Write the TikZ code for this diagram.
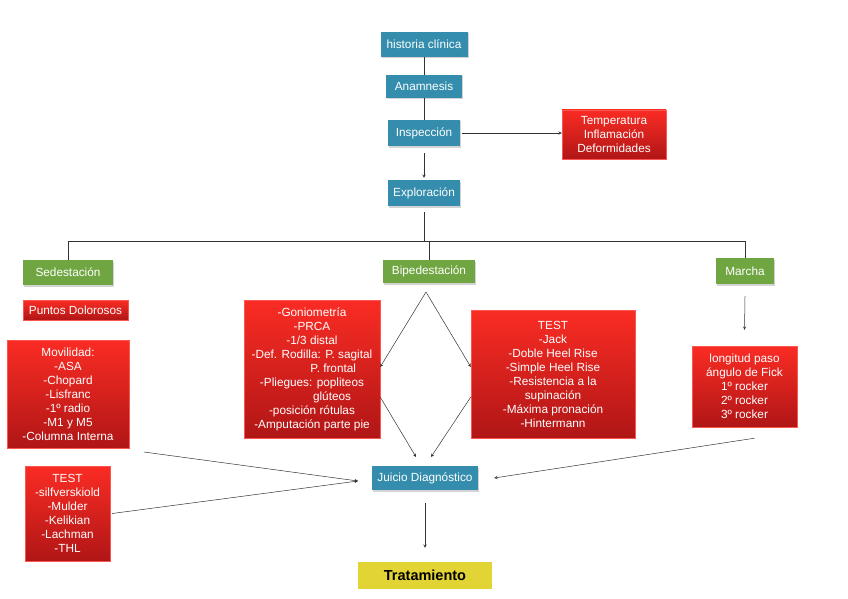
\documentclass[tikz,border=0pt]{standalone}
\usepackage{fontspec}
\setmainfont{Liberation Sans}
\usetikzlibrary{arrows,shapes,positioning,calc,shadows}

\definecolor{tealbox}{RGB}{52,141,172}
\definecolor{greenbox}{RGB}{112,166,66}
\definecolor{redtop}{RGB}{250,44,36}
\definecolor{redbot}{RGB}{176,22,22}
\definecolor{yellowbox}{RGB}{226,212,52}

\tikzset{
  base/.style={font=\fontsize{11.8}{14}\selectfont, align=center, inner sep=2pt, text=white},
  tealnode/.style={base, fill=tealbox, drop shadow={opacity=0.35, shadow xshift=1pt, shadow yshift=-1.5pt}},
  greennode/.style={base, fill=greenbox, drop shadow={opacity=0.35, shadow xshift=1pt, shadow yshift=-1.5pt}},
  rednode/.style={base, top color=redtop, bottom color=redbot, draw=redtop!80!white, line width=0.4pt},
  yellownode/.style={base, fill=yellowbox, text=black, font=\fontsize{14.5}{16}\selectfont\bfseries},
  link/.style={draw=black!80, line width=0.5pt},
  arrowlink/.style={link, ->, >=stealth}
}

\begin{document}
\begin{tikzpicture}[x=1pt, y=-1pt]
    \useasboundingbox (0,0) rectangle (848,599);

    % Main column
    \node[tealnode, minimum width=87, minimum height=25] (hist) at (424,44.5) {historia clínica};
    \node[tealnode, minimum width=76, minimum height=23] (anam) at (424,86.5) {Anamnesis};
    \node[tealnode, minimum width=72, minimum height=26] (insp) at (424,133) {Inspección};
    \node[tealnode, minimum width=72, minimum height=26] (explo) at (424,193) {Exploración};
    \node[rednode, minimum width=104, minimum height=49] (temp) at (614,134.5) {Temperatura\\Inflamación\\Deformidades};

    \draw[link] (hist) -- (anam);
    \draw[link] (anam) -- (insp);
    \draw[arrowlink, shorten <=7pt, shorten >=2pt] (insp) -- (explo);
    \draw[arrowlink, shorten <=2pt] (insp.east) -- (insp.east -| temp.west);

    % Three branches
    \node[greennode, minimum width=90, minimum height=25] (sede) at (68,272.5) {Sedestación};
    \node[greennode, minimum width=92, minimum height=23] (biped) at (429,271.5) {Bipedestación};
    \node[greennode, minimum width=58, minimum height=26] (marcha) at (745,271) {Marcha};

    \coordinate (busL) at (68,241);
    \coordinate (busR) at (745,241);
    \draw[link] ([yshift=-6pt]explo.south) -- (explo.south |- busL);
    \draw[link] (busL) -- (busR);
    \draw[link] (busL) -- (sede);
    \draw[link] (biped.north |- busL) -- (biped);
    \draw[link] (busR) -- (marcha);

    % Sedestacion
    \node[rednode, minimum width=105, minimum height=20] (puntos) at (75.5,310) {Puntos Dolorosos};
    \node[rednode, minimum width=122, minimum height=108] (movil) at (68,394)
        {Movilidad:\\-ASA\\-Chopard\\-Lisfranc\\-1º radio\\-M1 y M5\\-Columna Interna};
    \node[rednode, minimum width=85, minimum height=95] (testl) at (67.5,513.5)
        {TEST\\-silfverskiold\\-Mulder\\-Kelikian\\-Lachman\\-THL};

    % Bipedestacion
    \node[rednode, minimum width=136, minimum height=138] (gonio) at (312,369)
        {-Goniometría\\-PRCA\\-1/3 distal\\-Def. Rodilla: P. sagital\\\hspace*{3.6em}P. frontal\\-Pliegues: popliteos\\\hspace*{3.4em}glúteos\\-posición rótulas\\-Amputación parte pie};
    \node[rednode, minimum width=164, minimum height=128] (testr) at (553,374)
        {TEST\\-Jack\\-Doble Heel Rise\\-Simple Heel Rise\\-Resistencia a la\\supinación\\-Máxima pronación\\-Hintermann};

    % Marcha
    \node[rednode, minimum width=105, minimum height=81] (longi) at (744.5,386.5)
        {longitud paso\\ángulo de Fick\\1º rocker\\2º rocker\\3º rocker};

    % Diagnostico y tratamiento
    \node[tealnode, minimum width=106, minimum height=24] (juicio) at (425,478) {Juicio Diagnóstico};
    \node[yellownode, minimum width=134, minimum height=27] (trat) at (425,575.5) {Tratamiento};

    \coordinate (bipfork) at (426,292);
    \coordinate (jtopL) at (416,457);
    \coordinate (jtopR) at (431,457);
    \coordinate (jleft) at (358,481);
    \coordinate (movend) at (144,452);

    \draw[arrowlink] (bipfork) -- ([yshift=2pt]gonio.east);
    \draw[arrowlink] (bipfork) -- ([yshift=7pt]testr.west);
    \draw[arrowlink] ([yshift=-28pt]gonio.east) -- (jtopL);
    \draw[arrowlink] ([yshift=-23pt]testr.west) -- (jtopR);
    \draw[arrowlink] (movend) -- (jleft);
    \draw[arrowlink] ([xshift=2pt]testl.east) -- (jleft);
    \draw[arrowlink] ([yshift=-12pt]marcha.south) -- ([yshift=16pt]longi.north);
    \draw[arrowlink] ([xshift=10pt,yshift=-11pt]longi.south) -- ([xshift=16pt]juicio.east);
    \draw[arrowlink] ([yshift=-13pt]juicio.south) -- ([yshift=14pt]trat.north);
\end{tikzpicture}
\end{document}
